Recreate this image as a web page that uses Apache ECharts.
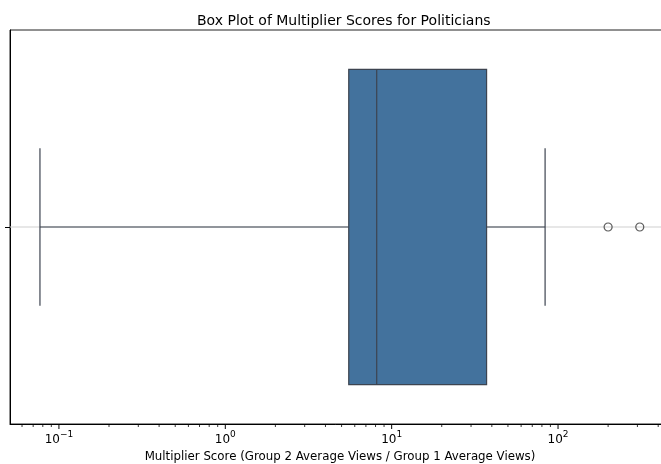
<!DOCTYPE html>
<html>
<head>
<meta charset="utf-8">
<script src="https://cdn.jsdelivr.net/npm/echarts@6/dist/echarts.min.js"></script>
</head>
<body style="margin:0;background:#fff;">
<div id="main" style="width:661px;height:464px;"></div>
<script type="text/javascript">
    // 数据
    var categories = ['Politicians'];
    var whiskerLow = [0.0769];
    var q1 = [5.52];
    var median = [8.13];
    var q3 = [37.2];
    var whiskerHigh = [83.6];
    var outliers = [200, 310];

    // 坐标轴刻度
    var majorTicks = [0.1, 1, 10, 100];
    var minorTicks = [0.06, 0.07, 0.08, 0.09,
        0.2, 0.3, 0.4, 0.5, 0.6, 0.7, 0.8, 0.9,
        2, 3, 4, 5, 6, 7, 8, 9,
        20, 30, 40, 50, 60, 70, 80, 90,
        200, 300, 400];

    var font = 'DejaVu Sans';
    var boxColor = '#43729d';
    var lineColor = '#3d4450';

    var boxData = categories.map(function (c, i) {
        return [i, whiskerLow[i], q1[i], median[i], q3[i], whiskerHigh[i]];
    });
    var outlierData = outliers.map(function (v) { return [v, 0]; });
    var tickData = majorTicks.map(function (v) { return [v, 0, 1]; })
        .concat(minorTicks.map(function (v) { return [v, 0, 0]; }));

    var myChart = echarts.init(document.getElementById('main'));

    var option = {
        animation: false,
        title: {
            text: 'Box Plot of Multiplier Scores for Politicians',
            left: 192,
            top: 9,
            textStyle: { fontFamily: font, fontSize: 14, fontWeight: 'normal', color: '#000' }
        },
        grid: {
            left: 10, right: -9, top: 30, bottom: 40,
            outerBoundsMode: 'none',
            containLabel: false,
            show: true, borderColor: '#222', borderWidth: 1
        },
        xAxis: {
            type: 'log',
            logBase: 10,
            min: 0.0508,
            max: 471,
            name: 'Multiplier Score (Group 2 Average Views / Group 1 Average Views)',
            nameLocation: 'middle',
            nameGap: 25,
            nameTextStyle: { fontFamily: font, fontSize: 11.8, color: '#000' },
            axisLine: { show: true, lineStyle: { color: '#000', width: 1 } },
            axisTick: { show: false },
            splitLine: { show: false },
            axisLabel: {
                margin: 6,
                showMinLabel: false,
                showMaxLabel: false,
                formatter: function (v) {
                    var e = Math.round(Math.log(v) / Math.LN10);
                    return '{b|10}{s|' + (e < 0 ? '\u2212' + (-e) : e) + '}';
                },
                rich: {
                    b: { fontFamily: font, fontSize: 12, color: '#000', lineHeight: 16, verticalAlign: 'bottom' },
                    s: { fontFamily: font, fontSize: 9, color: '#000', lineHeight: 16, verticalAlign: 'top' }
                }
            }
        },
        yAxis: {
            type: 'category',
            data: categories,
            axisLine: { show: true, lineStyle: { color: '#000', width: 1 } },
            axisTick: { show: true, alignWithLabel: true, length: 5, lineStyle: { color: '#000' } },
            axisLabel: { show: false },
            splitLine: { show: false }
        },
        series: [
            {
                // 箱体、中位线、须线
                type: 'custom',
                data: boxData,
                encode: { y: 0, x: [1, 2, 3, 4, 5] },
                renderItem: function (params, api) {
                    var yi = api.value(0);
                    var band = api.size([1, 1])[1];
                    var half = band * 0.4;
                    var cap = band * 0.2;
                    var cs = params.coordSys;
                    var pLow = api.coord([api.value(1), yi]);
                    var pQ1 = api.coord([api.value(2), yi]);
                    var pMed = api.coord([api.value(3), yi]);
                    var pQ3 = api.coord([api.value(4), yi]);
                    var pHigh = api.coord([api.value(5), yi]);
                    var y = pQ1[1];
                    var ls = { stroke: lineColor, lineWidth: 1.2 };
                    return {
                        type: 'group',
                        children: [
                            { type: 'line', shape: { x1: cs.x, y1: y, x2: cs.x + cs.width, y2: y },
                              style: { stroke: '#cfcfcf', lineWidth: 1 } },
                            { type: 'line', shape: { x1: pLow[0], y1: y, x2: pQ1[0], y2: y }, style: ls },
                            { type: 'line', shape: { x1: pQ3[0], y1: y, x2: pHigh[0], y2: y }, style: ls },
                            { type: 'line', shape: { x1: pLow[0], y1: y - cap, x2: pLow[0], y2: y + cap }, style: ls },
                            { type: 'line', shape: { x1: pHigh[0], y1: y - cap, x2: pHigh[0], y2: y + cap }, style: ls },
                            { type: 'rect', shape: { x: pQ1[0], y: y - half, width: pQ3[0] - pQ1[0], height: half * 2 },
                              style: { fill: boxColor, stroke: lineColor, lineWidth: 1.2 } },
                            { type: 'line', shape: { x1: pMed[0], y1: y - half, x2: pMed[0], y2: y + half }, style: ls }
                        ]
                    };
                },
                z: 2
            },
            {
                // 离群点
                type: 'scatter',
                data: outlierData,
                symbol: 'circle',
                symbolSize: 8,
                itemStyle: { color: 'rgba(0,0,0,0)', borderColor: '#333', borderWidth: 1.2 },
                z: 3
            },
            {
                // 对数刻度线（主刻度 + 次刻度）
                type: 'custom',
                data: tickData,
                encode: { x: 0, y: 1 },
                clip: false,
                silent: true,
                renderItem: function (params, api) {
                    var cs = params.coordSys;
                    var x = api.coord([api.value(0), 0])[0];
                    var len = api.value(2) ? 5 : 3;
                    var yb = cs.y + cs.height;
                    return {
                        type: 'line',
                        shape: { x1: x, y1: yb, x2: x, y2: yb + len },
                        style: { stroke: '#000', lineWidth: api.value(2) ? 1 : 0.8 }
                    };
                },
                z: 4
            }
        ]
    };

    myChart.setOption(option);
</script>
</body>
</html>
